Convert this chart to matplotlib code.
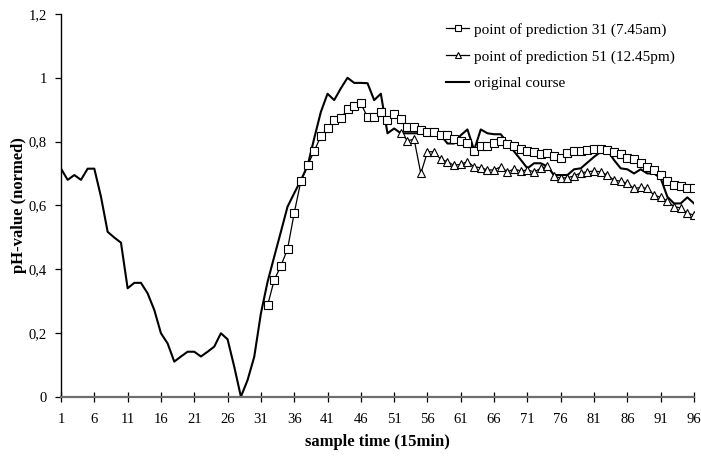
import numpy as np
import matplotlib
matplotlib.use("Agg")
import matplotlib.pyplot as plt

# sample index (15 min steps)
samples = np.arange(1, 97)

# normed pH value, measured course
original_course = [
    0.715, 0.680, 0.695, 0.680, 0.715, 0.715, 0.627, 0.517, 0.499, 0.483,
    0.340, 0.357, 0.357, 0.324, 0.272, 0.199, 0.167, 0.110, 0.126, 0.141,
    0.141, 0.126, 0.141, 0.157, 0.199, 0.180, 0.094, 0.000, 0.052, 0.125,
    0.261, 0.360, 0.439, 0.517, 0.596, 0.638, 0.679, 0.723, 0.810, 0.893,
    0.950, 0.930, 0.967, 1.000, 0.984, 0.984, 0.983, 0.930, 0.950, 0.826,
    0.841, 0.826, 0.826, 0.826, 0.826, 0.828, 0.826, 0.820, 0.794, 0.794,
    0.820, 0.838, 0.773, 0.838, 0.826, 0.823, 0.823, 0.796, 0.769, 0.743,
    0.716, 0.732, 0.732, 0.722, 0.695, 0.695, 0.695, 0.713, 0.716, 0.734,
    0.752, 0.768, 0.773, 0.742, 0.716, 0.713, 0.700, 0.713, 0.700, 0.700,
    0.685, 0.627, 0.606, 0.606, 0.625, 0.606,
]

# prediction started at sample 31 (values from sample 32 on)
pred31_start = 32
pred31 = [
    0.286, 0.366, 0.410, 0.463, 0.576, 0.676, 0.725, 0.770, 0.817, 0.841,
    0.867, 0.873, 0.901, 0.912, 0.920, 0.876, 0.876, 0.893, 0.867, 0.885,
    0.870, 0.846, 0.845, 0.836, 0.831, 0.831, 0.820, 0.822, 0.807, 0.803,
    0.794, 0.771, 0.786, 0.786, 0.796, 0.803, 0.791, 0.786, 0.776, 0.771,
    0.768, 0.761, 0.765, 0.754, 0.750, 0.763, 0.770, 0.770, 0.773, 0.776,
    0.776, 0.773, 0.766, 0.761, 0.750, 0.744, 0.732, 0.721, 0.711, 0.695,
    0.676, 0.664, 0.661, 0.653, 0.653,
]

# prediction started at sample 51 (values from sample 52 on)
pred51_start = 52
pred51 = [
    0.828, 0.803, 0.807, 0.700, 0.768, 0.768, 0.744, 0.737, 0.725, 0.729,
    0.737, 0.721, 0.718, 0.711, 0.711, 0.721, 0.705, 0.714, 0.708, 0.711,
    0.705, 0.716, 0.723, 0.692, 0.685, 0.687, 0.692, 0.702, 0.705, 0.708,
    0.705, 0.695, 0.679, 0.676, 0.669, 0.653, 0.656, 0.653, 0.632, 0.625,
    0.614, 0.596, 0.592, 0.575, 0.570,
]

x_ticks = list(range(1, 97, 5))
y_ticks = [0, 0.2, 0.4, 0.6, 0.8, 1.0, 1.2]
y_ticklabels = ["0", "0,2", "0,4", "0,6", "0,8", "1", "1,2"]

plt.rcParams["font.family"] = ["Liberation Serif", "DejaVu Serif"]

fig = plt.figure(figsize=(7.01, 4.59), dpi=100)
ax = fig.add_axes([61 / 701, 62.3 / 459, (694 - 61) / 701, (396.7 - 14) / 459])

x31 = np.arange(pred31_start, pred31_start + len(pred31))
x51 = np.arange(pred51_start, pred51_start + len(pred51))

ax.plot(x31, pred31, color="black", lw=0.9, marker="s", ms=5.4,
        mfc="white", mec="black", mew=0.8,
        label="point of prediction 31 (7.45am)", zorder=3)
ax.plot(x51, pred51, color="black", lw=0.9, marker="^", ms=5.6,
        mfc="white", mec="black", mew=0.8,
        label="point of prediction 51 (12.45pm)", zorder=3)
ax.plot(samples, original_course, color="black", lw=1.5,
        label="original course", zorder=2)

ax.set_xlim(1, 96)
ax.set_ylim(0, 1.2)
ax.set_xticks(x_ticks)
ax.set_xticklabels([str(t) for t in x_ticks])
ax.set_yticks(y_ticks)
ax.set_yticklabels(y_ticklabels)

for s in ("top", "right"):
    ax.spines[s].set_visible(False)
ax.spines["left"].set_color("black")
ax.spines["left"].set_linewidth(1.0)
ax.spines["bottom"].set_color("#6e6e6e")
ax.spines["bottom"].set_linewidth(1.6)

ax.tick_params(axis="x", direction="inout", length=7, width=0.9,
               color="black", labelsize=10.5, pad=8)
ax.tick_params(axis="y", direction="out", length=4, width=0.9,
               color="black", labelsize=10.5, pad=6)

ax.set_xlabel("sample time (15min)", fontsize=12, fontweight="bold", labelpad=6)
ax.set_ylabel("pH-value (normed)", fontsize=12, fontweight="bold", labelpad=1)

leg = ax.legend(loc="upper left", bbox_to_anchor=(0.599, 0.993), frameon=False,
                fontsize=11, handlelength=1.5, handletextpad=0.3,
                labelspacing=0.85, borderaxespad=0)
for h in leg.legend_handles[:2]:
    h.set_markersize(4.5)

fig.savefig("out.png", dpi=100)
